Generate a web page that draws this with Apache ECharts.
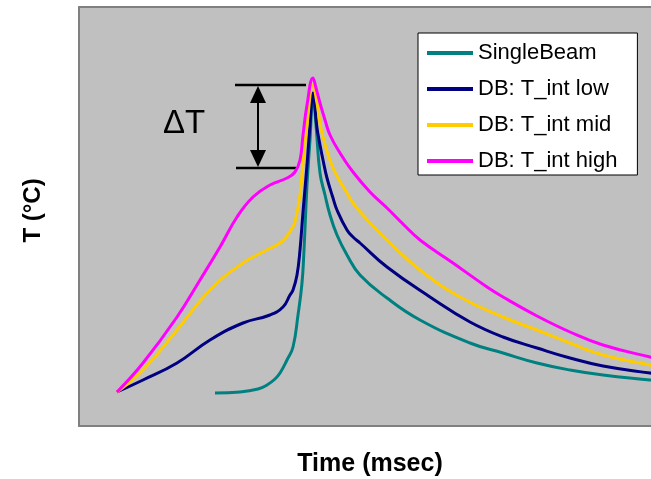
<!DOCTYPE html>
<html>
<head>
<meta charset="utf-8">
<script src="https://cdn.jsdelivr.net/npm/echarts@6/dist/echarts.min.js"></script>
<style>html,body{margin:0;padding:0;background:#fff}#c{width:651px;height:479px}</style>
</head>
<body>
<div id="c"></div>
<script>
// Time (msec) and temperature (arbitrary °C scale)
var seriesNames = ['SingleBeam', 'DB: T_int low', 'DB: T_int mid', 'DB: T_int high'];

var singleBeam = [[13.6,66],[16.1,68],[17.9,74],[18.8,82],[19.6,94],[20.1,106],[20.8,132],[21.4,158],[21.9,222],[22.3,286],[22.5,352],[22.8,482],[23.1,572],[23.4,662],
  [23.7,602],[24.1,506],[24.6,462],[25.1,422],[25.8,382],[26.8,342],[28.1,302],[30.8,256],[34.1,212],[39.1,166],[42.4,146],[45.8,126],[49.1,112],[52.4,102],[57.1,92],[58.1,90]];

var tIntLow = [[3.8,68],[6.4,92],[9.8,126],[13.1,172],[16.4,206],[19.1,222],[20.4,238],[21.1,262],[21.4,272],[21.8,302],[22.1,352],[22.4,428],[22.8,522],[23.1,602],[23.4,666],
  [23.8,596],[24.1,562],[24.4,532],[24.8,496],[25.4,456],[25.8,432],[26.8,392],[27.4,378],[28.1,366],[30.8,318],[35.1,258],[39.1,208],[42.4,178],[45.8,156],[49.1,136],[52.4,120],[57.1,106],[58.1,104]];

var tIntMid = [[3.8,68],[6.4,112],[9.8,192],[13.1,272],[16.4,326],[18.8,352],[20.1,366],[20.8,380],[21.3,396],[21.6,408],[22.1,462],[22.4,526],[22.8,602],[23.4,682],
  [23.8,646],[24.1,606],[24.4,578],[25.4,516],[26.8,466],[27.4,446],[29.1,406],[30.8,372],[34.1,312],[38.1,258],[42.4,218],[45.8,192],[49.1,166],[52.4,142],[57.1,122],[58.1,118]];

var tIntHigh = [[3.8,68],[6.4,126],[9.8,218],[12.1,292],[14.1,358],[15.8,418],[17.4,458],[19.1,482],[20.8,496],[21.6,508],[22.1,532],[22.4,582],[22.8,642],[23.4,696],
  [23.7,676],[24.1,646],[24.6,612],[25.1,582],[26.1,546],[27.4,508],[29.1,468],[30.8,436],[32.4,404],[34.1,372],[37.4,326],[40.8,278],[42.4,258],[45.8,220],[49.1,188],[52.4,162],[57.1,138],[58.1,134]];

var seriesColors = ['#008080', '#000080', '#FFCC00', '#FF00FF'];
var seriesData = [singleBeam, tIntLow, tIntMid, tIntHigh];

var chart = echarts.init(document.getElementById('c'), null, {renderer: 'canvas'});
var FONT = '"Liberation Sans", Arial, sans-serif';
var frame = {show: true, lineStyle: {color: '#808080', width: 2}};

chart.setOption({
  animation: false,
  backgroundColor: '#ffffff',
  grid: {left: 79, top: 7, right: 0, height: 419, show: true, backgroundColor: '#C0C0C0', borderWidth: 0,
         containLabel: false, outerBoundsMode: 'none'},
  xAxis: [{
    type: 'value', min: 0, max: 57.2,
    name: 'Time (msec)', nameLocation: 'middle', nameGap: 26,
    nameTextStyle: {fontFamily: FONT, fontSize: 25, fontWeight: 'bold', color: '#000', padding: [0, 0, 0, 10]},
    axisLine: frame, axisTick: {show: false}, axisLabel: {show: false}, splitLine: {show: false}
  }, {
    type: 'value', min: 0, max: 57.2, position: 'top',
    axisLine: frame, axisTick: {show: false}, axisLabel: {show: false}, splitLine: {show: false}
  }],
  yAxis: {
    type: 'value', min: 0, max: 838,
    name: 'T (°C)', nameLocation: 'middle', nameGap: 34, nameRotate: 90,
    nameTextStyle: {fontFamily: FONT, fontSize: 24, fontWeight: 'bold', color: '#000', padding: [0, 0, 0, 12]},
    axisLine: frame, axisTick: {show: false}, axisLabel: {show: false}, splitLine: {show: false}
  },
  legend: {
    orient: 'vertical', left: 418, top: 33,
    data: seriesNames,
    icon: 'rect', itemWidth: 46, itemHeight: 4, itemGap: 14,
    padding: [9, 20, 3, 9],
    backgroundColor: '#ffffff', borderColor: '#000000', borderWidth: 1,
    textStyle: {fontFamily: FONT, fontSize: 22, color: '#000', lineHeight: 22}
  },
  series: seriesNames.map(function (n, i) {
    return {
      name: n, type: 'line', data: seriesData[i], showSymbol: false, symbol: 'none',
      smooth: 0.45, clip: true,
      lineStyle: {color: seriesColors[i], width: 3},
      itemStyle: {color: seriesColors[i]}
    };
  }),
  graphic: [
    {type: 'text', left: 163, top: 107, style: {text: 'ΔT', font: '33px ' + FONT, fill: '#000'}},
    {type: 'line', shape: {x1: 235, y1: 85, x2: 306, y2: 85}, style: {stroke: '#000', lineWidth: 2.5}},
    {type: 'line', shape: {x1: 236, y1: 168, x2: 296, y2: 168}, style: {stroke: '#000', lineWidth: 2.5}},
    {type: 'line', shape: {x1: 258, y1: 100, x2: 258, y2: 153}, style: {stroke: '#000', lineWidth: 2}},
    {type: 'polygon', shape: {points: [[258, 86], [250, 103], [266, 103]]}, style: {fill: '#000'}},
    {type: 'polygon', shape: {points: [[258, 167], [250, 150], [266, 150]]}, style: {fill: '#000'}}
  ]
});
</script>
</body>
</html>
